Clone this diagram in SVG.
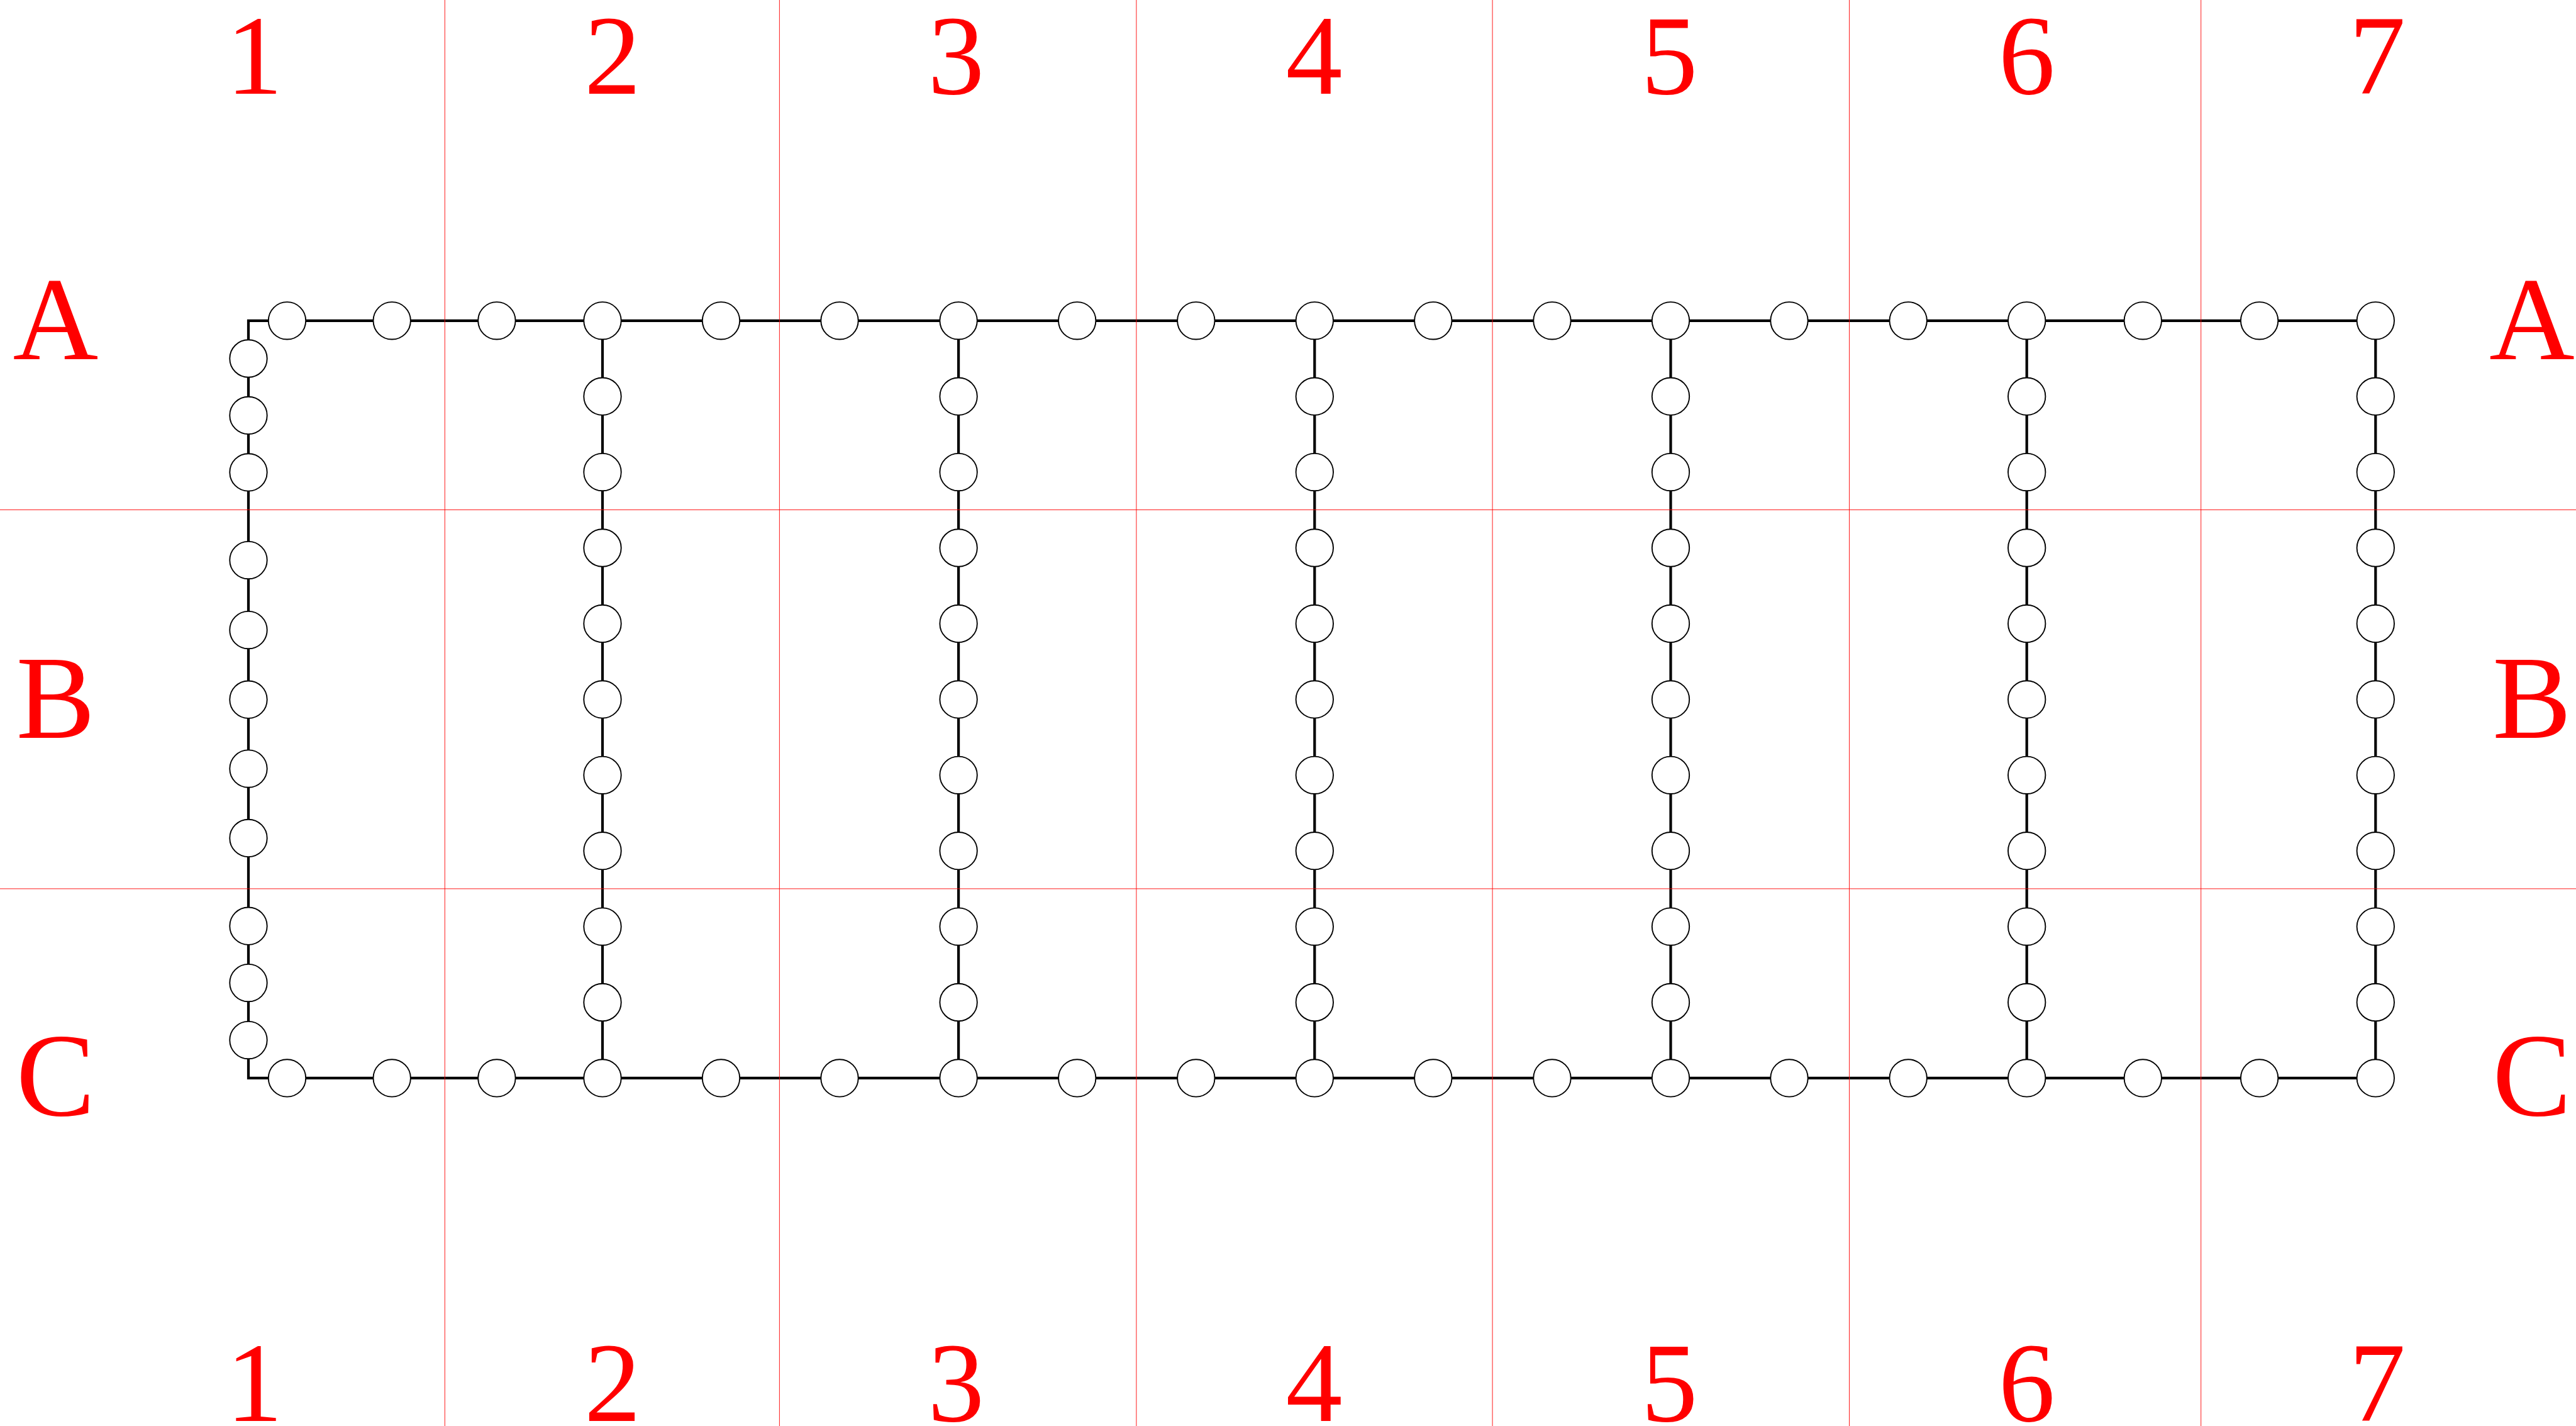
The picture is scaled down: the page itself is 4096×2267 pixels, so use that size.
<svg xmlns="http://www.w3.org/2000/svg" width="4096" height="2267" viewBox="0 0 4096 2267">
<style>
.n{fill:#fff;stroke:#000;stroke-width:1.9}
.w{fill:none;stroke:#000;stroke-width:4.2;stroke-linejoin:miter;stroke-linecap:square}
.g{stroke:#ff0000;stroke-width:0.9}
.d{font-family:"Liberation Serif","DejaVu Serif",serif;font-size:180px;fill:#ff0000;text-anchor:middle}
.L{font-family:"Liberation Serif","DejaVu Serif",serif;font-size:188px;fill:#ff0000;text-anchor:middle}
</style>
<rect width="4096" height="2267" fill="#fff"/>
<g id="connectors">
<path class="w" d="M395,509.8 H3777.3 V1713.9 H395 Z"/>
<path class="w" d="M958,509.8 V1713.9 M1524.1,509.8 V1713.9 M2090.3,509.8 V1713.9 M2656.5,509.8 V1713.9 M3222.7,509.8 V1713.9"/>
</g>
<g id="top-row">
<g id="t1"><circle class="n" cx="456.5" cy="509.8" r="29.7"/></g>
<g id="t2"><circle class="n" cx="623.2" cy="509.8" r="29.7"/></g>
<g id="t3"><circle class="n" cx="789.9" cy="509.8" r="29.7"/></g>
<g id="t4"><circle class="n" cx="958" cy="509.8" r="29.7"/></g>
<g id="t5"><circle class="n" cx="1146.5" cy="509.8" r="29.7"/></g>
<g id="t6"><circle class="n" cx="1335" cy="509.8" r="29.7"/></g>
<g id="t7"><circle class="n" cx="1524.1" cy="509.8" r="29.7"/></g>
<g id="t8"><circle class="n" cx="1712.7" cy="509.8" r="29.7"/></g>
<g id="t9"><circle class="n" cx="1901.8" cy="509.8" r="29.7"/></g>
<g id="t10"><circle class="n" cx="2090.3" cy="509.8" r="29.7"/></g>
<g id="t11"><circle class="n" cx="2278.8" cy="509.8" r="29.7"/></g>
<g id="t12"><circle class="n" cx="2468" cy="509.8" r="29.7"/></g>
<g id="t13"><circle class="n" cx="2656.5" cy="509.8" r="29.7"/></g>
<g id="t14"><circle class="n" cx="2845" cy="509.8" r="29.7"/></g>
<g id="t15"><circle class="n" cx="3034.2" cy="509.8" r="29.7"/></g>
<g id="t16"><circle class="n" cx="3222.7" cy="509.8" r="29.7"/></g>
<g id="t17"><circle class="n" cx="3407.3" cy="509.8" r="29.7"/></g>
<g id="t18"><circle class="n" cx="3592.6" cy="509.8" r="29.7"/></g>
<g id="t19"><circle class="n" cx="3777.3" cy="509.8" r="29.7"/></g>
</g>
<g id="bottom-row">
<g id="b1"><circle class="n" cx="456.5" cy="1713.9" r="29.7"/></g>
<g id="b2"><circle class="n" cx="623.2" cy="1713.9" r="29.7"/></g>
<g id="b3"><circle class="n" cx="789.9" cy="1713.9" r="29.7"/></g>
<g id="b4"><circle class="n" cx="958" cy="1713.9" r="29.7"/></g>
<g id="b5"><circle class="n" cx="1146.5" cy="1713.9" r="29.7"/></g>
<g id="b6"><circle class="n" cx="1335" cy="1713.9" r="29.7"/></g>
<g id="b7"><circle class="n" cx="1524.1" cy="1713.9" r="29.7"/></g>
<g id="b8"><circle class="n" cx="1712.7" cy="1713.9" r="29.7"/></g>
<g id="b9"><circle class="n" cx="1901.8" cy="1713.9" r="29.7"/></g>
<g id="b10"><circle class="n" cx="2090.3" cy="1713.9" r="29.7"/></g>
<g id="b11"><circle class="n" cx="2278.8" cy="1713.9" r="29.7"/></g>
<g id="b12"><circle class="n" cx="2468" cy="1713.9" r="29.7"/></g>
<g id="b13"><circle class="n" cx="2656.5" cy="1713.9" r="29.7"/></g>
<g id="b14"><circle class="n" cx="2845" cy="1713.9" r="29.7"/></g>
<g id="b15"><circle class="n" cx="3034.2" cy="1713.9" r="29.7"/></g>
<g id="b16"><circle class="n" cx="3222.7" cy="1713.9" r="29.7"/></g>
<g id="b17"><circle class="n" cx="3407.3" cy="1713.9" r="29.7"/></g>
<g id="b18"><circle class="n" cx="3592.6" cy="1713.9" r="29.7"/></g>
<g id="b19"><circle class="n" cx="3777.3" cy="1713.9" r="29.7"/></g>
</g>
<g id="left-column">
<g id="l1"><circle class="n" cx="395" cy="570" r="29.7"/></g>
<g id="l2"><circle class="n" cx="395" cy="660.4" r="29.7"/></g>
<g id="l3"><circle class="n" cx="395" cy="750.9" r="29.7"/></g>
<g id="l4"><circle class="n" cx="395" cy="890.6" r="29.7"/></g>
<g id="l5"><circle class="n" cx="395" cy="1001.6" r="29.7"/></g>
<g id="l6"><circle class="n" cx="395" cy="1112.2" r="29.7"/></g>
<g id="l7"><circle class="n" cx="395" cy="1222.1" r="29.7"/></g>
<g id="l8"><circle class="n" cx="395" cy="1332.4" r="29.7"/></g>
<g id="l9"><circle class="n" cx="395" cy="1472.2" r="29.7"/></g>
<g id="l10"><circle class="n" cx="395" cy="1562.6" r="29.7"/></g>
<g id="l11"><circle class="n" cx="395" cy="1653.6" r="29.7"/></g>
</g>
<g id="column-2">
<g id="c2-1"><circle class="n" cx="958" cy="630.2" r="29.7"/></g>
<g id="c2-2"><circle class="n" cx="958" cy="750.6" r="29.7"/></g>
<g id="c2-3"><circle class="n" cx="958" cy="871" r="29.7"/></g>
<g id="c2-4"><circle class="n" cx="958" cy="991.4" r="29.7"/></g>
<g id="c2-5"><circle class="n" cx="958" cy="1111.9" r="29.7"/></g>
<g id="c2-6"><circle class="n" cx="958" cy="1232.3" r="29.7"/></g>
<g id="c2-7"><circle class="n" cx="958" cy="1352.7" r="29.7"/></g>
<g id="c2-8"><circle class="n" cx="958" cy="1473.1" r="29.7"/></g>
<g id="c2-9"><circle class="n" cx="958" cy="1593.5" r="29.7"/></g>
</g>
<g id="column-3">
<g id="c3-1"><circle class="n" cx="1524.1" cy="630.2" r="29.7"/></g>
<g id="c3-2"><circle class="n" cx="1524.1" cy="750.6" r="29.7"/></g>
<g id="c3-3"><circle class="n" cx="1524.1" cy="871" r="29.7"/></g>
<g id="c3-4"><circle class="n" cx="1524.1" cy="991.4" r="29.7"/></g>
<g id="c3-5"><circle class="n" cx="1524.1" cy="1111.9" r="29.7"/></g>
<g id="c3-6"><circle class="n" cx="1524.1" cy="1232.3" r="29.7"/></g>
<g id="c3-7"><circle class="n" cx="1524.1" cy="1352.7" r="29.7"/></g>
<g id="c3-8"><circle class="n" cx="1524.1" cy="1473.1" r="29.7"/></g>
<g id="c3-9"><circle class="n" cx="1524.1" cy="1593.5" r="29.7"/></g>
</g>
<g id="column-4">
<g id="c4-1"><circle class="n" cx="2090.3" cy="630.2" r="29.7"/></g>
<g id="c4-2"><circle class="n" cx="2090.3" cy="750.6" r="29.7"/></g>
<g id="c4-3"><circle class="n" cx="2090.3" cy="871" r="29.7"/></g>
<g id="c4-4"><circle class="n" cx="2090.3" cy="991.4" r="29.7"/></g>
<g id="c4-5"><circle class="n" cx="2090.3" cy="1111.9" r="29.7"/></g>
<g id="c4-6"><circle class="n" cx="2090.3" cy="1232.3" r="29.7"/></g>
<g id="c4-7"><circle class="n" cx="2090.3" cy="1352.7" r="29.7"/></g>
<g id="c4-8"><circle class="n" cx="2090.3" cy="1473.1" r="29.7"/></g>
<g id="c4-9"><circle class="n" cx="2090.3" cy="1593.5" r="29.7"/></g>
</g>
<g id="column-5">
<g id="c5-1"><circle class="n" cx="2656.5" cy="630.2" r="29.7"/></g>
<g id="c5-2"><circle class="n" cx="2656.5" cy="750.6" r="29.7"/></g>
<g id="c5-3"><circle class="n" cx="2656.5" cy="871" r="29.7"/></g>
<g id="c5-4"><circle class="n" cx="2656.5" cy="991.4" r="29.7"/></g>
<g id="c5-5"><circle class="n" cx="2656.5" cy="1111.9" r="29.7"/></g>
<g id="c5-6"><circle class="n" cx="2656.5" cy="1232.3" r="29.7"/></g>
<g id="c5-7"><circle class="n" cx="2656.5" cy="1352.7" r="29.7"/></g>
<g id="c5-8"><circle class="n" cx="2656.5" cy="1473.1" r="29.7"/></g>
<g id="c5-9"><circle class="n" cx="2656.5" cy="1593.5" r="29.7"/></g>
</g>
<g id="column-6">
<g id="c6-1"><circle class="n" cx="3222.7" cy="630.2" r="29.7"/></g>
<g id="c6-2"><circle class="n" cx="3222.7" cy="750.6" r="29.7"/></g>
<g id="c6-3"><circle class="n" cx="3222.7" cy="871" r="29.7"/></g>
<g id="c6-4"><circle class="n" cx="3222.7" cy="991.4" r="29.7"/></g>
<g id="c6-5"><circle class="n" cx="3222.7" cy="1111.9" r="29.7"/></g>
<g id="c6-6"><circle class="n" cx="3222.7" cy="1232.3" r="29.7"/></g>
<g id="c6-7"><circle class="n" cx="3222.7" cy="1352.7" r="29.7"/></g>
<g id="c6-8"><circle class="n" cx="3222.7" cy="1473.1" r="29.7"/></g>
<g id="c6-9"><circle class="n" cx="3222.7" cy="1593.5" r="29.7"/></g>
</g>
<g id="column-7">
<g id="c7-1"><circle class="n" cx="3777.3" cy="630.2" r="29.7"/></g>
<g id="c7-2"><circle class="n" cx="3777.3" cy="750.6" r="29.7"/></g>
<g id="c7-3"><circle class="n" cx="3777.3" cy="871" r="29.7"/></g>
<g id="c7-4"><circle class="n" cx="3777.3" cy="991.4" r="29.7"/></g>
<g id="c7-5"><circle class="n" cx="3777.3" cy="1111.9" r="29.7"/></g>
<g id="c7-6"><circle class="n" cx="3777.3" cy="1232.3" r="29.7"/></g>
<g id="c7-7"><circle class="n" cx="3777.3" cy="1352.7" r="29.7"/></g>
<g id="c7-8"><circle class="n" cx="3777.3" cy="1473.1" r="29.7"/></g>
<g id="c7-9"><circle class="n" cx="3777.3" cy="1593.5" r="29.7"/></g>
</g>
<g id="grid">
<line class="g" x1="707.3" y1="0" x2="707.3" y2="2267"/>
<line class="g" x1="1239.4" y1="0" x2="1239.4" y2="2267"/>
<line class="g" x1="1806.9" y1="0" x2="1806.9" y2="2267"/>
<line class="g" x1="2373.1" y1="0" x2="2373.1" y2="2267"/>
<line class="g" x1="2940.5" y1="0" x2="2940.5" y2="2267"/>
<line class="g" x1="3499.7" y1="0" x2="3499.7" y2="2267"/>
<line class="g" x1="0" y1="810.5" x2="4096" y2="810.5"/>
<line class="g" x1="0" y1="1412.9" x2="4096" y2="1412.9"/>
</g>
<g id="labels">
<text class="d" x="404.6" y="149.4">1</text>
<text class="d" x="974" y="149.4">2</text>
<text class="d" x="1520.3" y="149.4">3</text>
<text class="d" x="2089.6" y="149.4">4</text>
<text class="d" x="2654.6" y="149.4">5</text>
<text class="d" x="3222.7" y="149.4">6</text>
<text class="d" x="3779.9" y="149.4">7</text>
<text class="d" x="404.6" y="2259">1</text>
<text class="d" x="974" y="2259">2</text>
<text class="d" x="1520.3" y="2259">3</text>
<text class="d" x="2089.6" y="2259">4</text>
<text class="d" x="2654.6" y="2259">5</text>
<text class="d" x="3222.7" y="2259">6</text>
<text class="d" x="3779.9" y="2259">7</text>
<text class="L" x="88.5" y="571.3">A</text>
<text class="L" x="88.5" y="1173.4">B</text>
<text class="L" x="88.5" y="1773">C</text>
<text class="L" x="4026" y="571.3">A</text>
<text class="L" x="4026" y="1173.4">B</text>
<text class="L" x="4026" y="1773">C</text>
</g>
</svg>
